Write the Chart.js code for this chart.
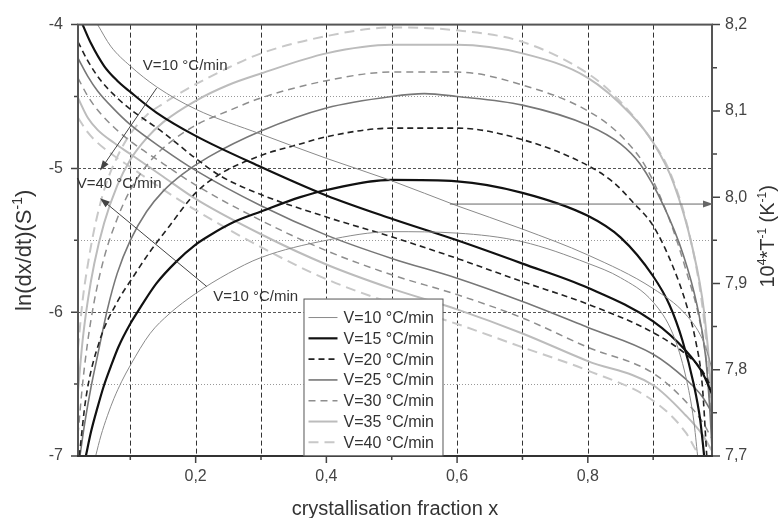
<!DOCTYPE html>
<html lang="en">
<head>
<meta charset="UTF-8">
<title>Crystallisation rate and inverse temperature</title>
<script src="https://cdn.jsdelivr.net/npm/chart.js"></script>
<style>
body {
    margin: 0;
    background: #fff;
}
.wrap {
    position: relative;
    width: 780px;
    height: 518px;
}
</style>
</head>
<body>
<div class="wrap"><canvas id="chart"></canvas></div>
<script>
// heating rates
const rateLabels = ['V=10 °C/min', 'V=15 °C/min', 'V=20 °C/min', 'V=25 °C/min', 'V=30 °C/min', 'V=35 °C/min', 'V=40 °C/min'];

// tick values
const xTicks = [0.2, 0.4, 0.6, 0.8];
const leftTicks = [-7, -6, -5, -4];
const rightTicks = [7.7, 7.8, 7.9, 8.0, 8.1, 8.2];

// ln(dx/dt) vs x  (left axis)
const arc10 = [[0.047,-7],[0.055,-6.86],[0.065,-6.72],[0.075,-6.6],[0.087,-6.48],[0.1,-6.37],[0.13,-6.15],[0.16,-6.01],[0.2,-5.87],[0.25,-5.73],[0.3,-5.62],[0.4,-5.5],[0.5,-5.44],[0.6,-5.45],[0.7,-5.51],[0.8,-5.66],[0.85,-5.76],[0.9,-5.93],[0.93,-6.15],[0.95,-6.45],[0.962,-6.75],[0.968,-7]];
const arc15 = [[0.032,-7],[0.04,-6.83],[0.05,-6.66],[0.059,-6.52],[0.07,-6.38],[0.082,-6.24],[0.1,-6.08],[0.115,-5.97],[0.14,-5.8],[0.17,-5.65],[0.2,-5.53],[0.22,-5.47],[0.26,-5.37],[0.3,-5.3],[0.36,-5.2],[0.4,-5.15],[0.5,-5.08],[0.6,-5.09],[0.7,-5.17],[0.8,-5.33],[0.85,-5.48],[0.9,-5.75],[0.925,-5.95],[0.945,-6.2],[0.962,-6.5],[0.972,-6.75],[0.978,-7]];
const arc20 = [[0.022,-7],[0.032,-6.6],[0.053,-6.2],[0.08,-5.93],[0.105,-5.75],[0.13,-5.58],[0.16,-5.4],[0.2,-5.17],[0.237,-5.04],[0.3,-4.91],[0.36,-4.83],[0.4,-4.78],[0.5,-4.72],[0.6,-4.72],[0.7,-4.8],[0.8,-4.98],[0.84,-5.1],[0.87,-5.24],[0.9,-5.4],[0.93,-5.68],[0.951,-5.95],[0.965,-6.2],[0.975,-6.5],[0.982,-7]];
const arc25 = [[0.023,-7],[0.03,-6.78],[0.04,-6.52],[0.05,-6.3],[0.065,-5.98],[0.08,-5.73],[0.1,-5.5],[0.125,-5.3],[0.15,-5.16],[0.18,-5.04],[0.22,-4.92],[0.3,-4.74],[0.4,-4.58],[0.5,-4.5],[0.55,-4.48],[0.6,-4.5],[0.7,-4.56],[0.8,-4.7],[0.85,-4.83],[0.88,-4.97],[0.916,-5.26],[0.946,-5.6],[0.967,-5.95],[0.98,-6.3],[0.987,-6.7],[0.99,-6.95]];
const arc30 = [[0.02,-6.85],[0.027,-6.5],[0.035,-6.2],[0.045,-5.92],[0.06,-5.62],[0.08,-5.35],[0.1,-5.15],[0.125,-4.98],[0.15,-4.86],[0.2,-4.7],[0.25,-4.6],[0.3,-4.51],[0.4,-4.39],[0.5,-4.33],[0.6,-4.33],[0.7,-4.42],[0.8,-4.6],[0.85,-4.77],[0.89,-5.0],[0.926,-5.37],[0.951,-5.72],[0.972,-6.08],[0.984,-6.45],[0.99,-6.85]];
const arc35 = [[0.02,-6.55],[0.027,-6.2],[0.035,-5.92],[0.045,-5.66],[0.06,-5.38],[0.08,-5.12],[0.1,-4.94],[0.125,-4.79],[0.15,-4.68],[0.2,-4.53],[0.25,-4.42],[0.3,-4.34],[0.4,-4.2],[0.5,-4.14],[0.6,-4.14],[0.7,-4.2],[0.8,-4.37],[0.865,-4.62],[0.9,-4.82],[0.931,-5.1],[0.96,-5.55],[0.978,-6.0],[0.988,-6.5],[0.99,-6.7]];
const arc40 = [[0.02,-6.25],[0.027,-5.92],[0.035,-5.67],[0.045,-5.42],[0.06,-5.15],[0.08,-4.92],[0.1,-4.76],[0.125,-4.63],[0.15,-4.55],[0.186,-4.45],[0.25,-4.3],[0.3,-4.2],[0.4,-4.08],[0.5,-4.02],[0.6,-4.04],[0.7,-4.12],[0.8,-4.34],[0.84,-4.49],[0.9,-4.82],[0.926,-5.03],[0.955,-5.45],[0.975,-5.95],[0.985,-6.4],[0.99,-6.75]];

// 10^4/T vs x  (right axis)
const inv10 = [[0.05,8.2],[0.07,8.175],[0.1,8.152],[0.14,8.128],[0.2,8.102],[0.3,8.073],[0.4,8.045],[0.5,8.019],[0.6,7.99],[0.7,7.963],[0.8,7.933],[0.9,7.894],[0.95,7.864],[0.975,7.836],[0.985,7.815],[0.99,7.8]];
const inv15 = [[0.027,8.2],[0.04,8.178],[0.06,8.152],[0.08,8.135],[0.1,8.122],[0.14,8.098],[0.2,8.071],[0.3,8.035],[0.4,8.002],[0.5,7.975],[0.6,7.95],[0.7,7.923],[0.8,7.895],[0.9,7.856],[0.95,7.822],[0.975,7.797],[0.99,7.772]];
const inv20 = [[0.02,8.18],[0.035,8.158],[0.054,8.136],[0.08,8.115],[0.1,8.102],[0.15,8.075],[0.2,8.045],[0.237,8.025],[0.3,8.003],[0.4,7.977],[0.5,7.954],[0.6,7.929],[0.7,7.902],[0.8,7.876],[0.9,7.843],[0.95,7.818],[0.975,7.799],[0.99,7.778]];
const inv25 = [[0.02,8.161],[0.035,8.14],[0.05,8.123],[0.075,8.102],[0.1,8.084],[0.15,8.056],[0.2,8.031],[0.3,7.99],[0.4,7.956],[0.5,7.929],[0.6,7.906],[0.7,7.879],[0.8,7.849],[0.9,7.818],[0.95,7.789],[0.975,7.769],[0.99,7.75]];
const inv30 = [[0.02,8.138],[0.035,8.117],[0.05,8.101],[0.075,8.081],[0.1,8.065],[0.15,8.039],[0.2,8.014],[0.3,7.973],[0.4,7.938],[0.5,7.91],[0.6,7.887],[0.7,7.86],[0.8,7.826],[0.9,7.796],[0.95,7.763],[0.975,7.74],[0.99,7.72]];
const inv35 = [[0.02,8.115],[0.035,8.092],[0.05,8.078],[0.075,8.063],[0.1,8.05],[0.15,8.024],[0.2,7.998],[0.3,7.957],[0.4,7.922],[0.5,7.894],[0.6,7.87],[0.7,7.842],[0.8,7.81],[0.9,7.782],[0.95,7.747],[0.975,7.725],[0.99,7.706]];
const inv40 = [[0.02,8.092],[0.035,8.075],[0.05,8.063],[0.075,8.048],[0.1,8.035],[0.15,8.009],[0.2,7.985],[0.3,7.942],[0.4,7.905],[0.5,7.877],[0.6,7.853],[0.7,7.826],[0.8,7.799],[0.9,7.764],[0.95,7.727],[0.97,7.7]];

const arcs = [arc10, arc15, arc20, arc25, arc30, arc35, arc40];
const invs = [inv10, inv15, inv20, inv25, inv30, inv35, inv40];

// line look per heating rate
const styles = [
    { color: '#8a8a8a', width: 1,   dash: [] },
    { color: '#111111', width: 2.2, dash: [] },
    { color: '#222222', width: 1.6, dash: [6, 4] },
    { color: '#777777', width: 1.6, dash: [] },
    { color: '#8e8e8e', width: 1.5, dash: [7, 5] },
    { color: '#bcbcbc', width: 2,   dash: [] },
    { color: '#c8c8c8', width: 2,   dash: [10, 6] }
];

const FONT = "'Liberation Sans', Arial, sans-serif";

function fmt(v, digits) {
    return v.toFixed(digits).replace('.', ',');
}

const datasets = [];
styles.forEach((s, i) => {
    const common = {
        borderColor: s.color,
        borderWidth: s.width,
        borderDash: s.dash,
        pointRadius: 0,
        fill: false,
        cubicInterpolationMode: 'monotone',
        clip: 2
    };
    datasets.push(Object.assign({ label: rateLabels[i], yAxisID: 'y', data: arcs[i].map(p => ({ x: p[0], y: p[1] })) }, common));
    datasets.push(Object.assign({ label: rateLabels[i] + ' 1/T', yAxisID: 'y2', data: invs[i].map(p => ({ x: p[0], y: p[1] })) }, common));
});

// draw a string made of normal and superscript parts, centred on (x, y)
function richText(ctx, parts, x, y, size, angle) {
    ctx.save();
    ctx.translate(x, y);
    ctx.rotate(angle);
    const supSize = Math.round(size * 0.62);
    let total = 0;
    parts.forEach(p => {
        ctx.font = (p[1] ? supSize : size) + 'px ' + FONT;
        total += ctx.measureText(p[0]).width;
    });
    let cx = -total / 2;
    ctx.textBaseline = 'alphabetic';
    ctx.textAlign = 'left';
    ctx.fillStyle = '#333';
    parts.forEach(p => {
        ctx.font = (p[1] ? supSize : size) + 'px ' + FONT;
        ctx.fillText(p[0], cx, p[1] ? -size * 0.42 : 0);
        cx += ctx.measureText(p[0]).width;
    });
    ctx.restore();
}

function arrow(ctx, x1, y1, x2, y2, color) {
    const a = Math.atan2(y2 - y1, x2 - x1);
    ctx.save();
    ctx.strokeStyle = color;
    ctx.fillStyle = color;
    ctx.lineWidth = 1;
    ctx.beginPath();
    ctx.moveTo(x1, y1);
    ctx.lineTo(x2 - 6 * Math.cos(a), y2 - 6 * Math.sin(a));
    ctx.stroke();
    ctx.beginPath();
    ctx.moveTo(x2, y2);
    ctx.lineTo(x2 - 10 * Math.cos(a) + 3.5 * Math.sin(a), y2 - 10 * Math.sin(a) - 3.5 * Math.cos(a));
    ctx.lineTo(x2 - 10 * Math.cos(a) - 3.5 * Math.sin(a), y2 - 10 * Math.sin(a) + 3.5 * Math.cos(a));
    ctx.closePath();
    ctx.fill();
    ctx.restore();
}

// dashed / dotted grid behind the curves
const gridLines = {
    id: 'gridLines',
    beforeDatasetsDraw(chart) {
        const { ctx, chartArea: a, scales } = chart;
        ctx.save();
        ctx.lineWidth = 1;
        // vertical
        ctx.strokeStyle = '#333';
        ctx.setLineDash([5, 3]);
        for (let i = 1; i <= 9; i++) {
            const px = Math.round(scales.x.getPixelForValue(i / 10)) + 0.5;
            ctx.beginPath();
            ctx.moveTo(px, a.top);
            ctx.lineTo(px, a.bottom);
            ctx.stroke();
        }
        // horizontal
        [-6.5, -6, -5.5, -5, -4.5].forEach(v => {
            const py = Math.round(scales.y.getPixelForValue(v)) + 0.5;
            const major = Number.isInteger(v);
            ctx.strokeStyle = major ? '#555' : '#999';
            ctx.setLineDash(major ? [3, 2] : [1, 2]);
            ctx.beginPath();
            ctx.moveTo(a.left, py);
            ctx.lineTo(a.right, py);
            ctx.stroke();
        });
        ctx.restore();
    }
};

// frame, ticks, notes, legend and titles
const decorations = {
    id: 'decorations',
    afterDatasetsDraw(chart) {
        const { ctx, chartArea: a, scales } = chart;
        const X = v => scales.x.getPixelForValue(v);
        const YL = v => scales.y.getPixelForValue(v);
        const YR = v => scales.y2.getPixelForValue(v);

        ctx.save();
        ctx.setLineDash([]);
        ctx.strokeStyle = '#444';
        ctx.lineWidth = 1.5;
        // tick marks
        ctx.beginPath();
        for (let i = 1; i <= 9; i++) {
            const px = X(i / 10);
            ctx.moveTo(px, a.bottom);
            ctx.lineTo(px, a.bottom + (i % 2 === 0 ? 7 : 4));
        }
        for (let v = -7; v <= -4; v += 0.5) {
            const py = YL(v);
            ctx.moveTo(a.left, py);
            ctx.lineTo(a.left - (Number.isInteger(v) ? 7 : 4), py);
        }
        for (let k = 0; k <= 10; k++) {
            const py = YR(7.7 + k * 0.05);
            ctx.moveTo(a.right, py);
            ctx.lineTo(a.right + (k % 2 === 0 ? 8 : 5), py);
        }
        ctx.stroke();
        // frame
        ctx.lineWidth = 2;
        ctx.strokeStyle = '#555';
        ctx.strokeRect(a.left, a.top, a.right - a.left, a.bottom - a.top);
        ctx.strokeStyle = '#333';
        ctx.beginPath();
        ctx.moveTo(a.left - 1, a.bottom);
        ctx.lineTo(a.right + 1, a.bottom);
        ctx.stroke();
        ctx.restore();

        // notes
        ctx.save();
        ctx.fillStyle = '#333';
        ctx.font = '15px ' + FONT;
        ctx.textBaseline = 'middle';
        ctx.textAlign = 'left';
        ctx.fillText('V=10 °C/min', X(0.119), YL(-4.29));
        ctx.fillText('V=40 °C/min', X(0.018), YL(-5.106));
        ctx.fillText('V=10 °C/min', X(0.227), YL(-5.89));
        ctx.restore();
        arrow(ctx, X(0.1404), YL(-4.441), X(0.0537), YL(-5.014), '#444');
        arrow(ctx, X(0.2169), YL(-5.821), X(0.0537), YL(-5.207), '#444');
        arrow(ctx, X(0.589), YR(7.992), a.right + 1, YR(7.992), '#666');

        // legend box
        const lx = X(0.365), ly = YL(-5.905);
        const lw = 139, lh = 157, row = 20.8;
        ctx.save();
        ctx.fillStyle = '#fff';
        ctx.fillRect(lx, ly, lw, lh);
        ctx.strokeStyle = '#555';
        ctx.lineWidth = 1;
        ctx.strokeRect(lx + 0.5, ly + 0.5, lw, lh);
        ctx.font = '16px ' + FONT;
        ctx.textBaseline = 'middle';
        ctx.fillStyle = '#333';
        styles.forEach((s, i) => {
            const cy = ly + 19 + i * row;
            ctx.strokeStyle = s.color;
            ctx.lineWidth = s.width;
            ctx.setLineDash(s.dash);
            ctx.beginPath();
            ctx.moveTo(lx + 5, cy);
            ctx.lineTo(lx + 34, cy);
            ctx.stroke();
            ctx.fillText(rateLabels[i], lx + 40, cy + 1);
        });
        ctx.restore();
    },
    afterDraw(chart) {
        const { ctx, chartArea: a } = chart;
        const midY = (a.top + a.bottom) / 2;
        richText(ctx, [['ln(dx/dt)(S', false], ['-1', true], [')', false]], 31, midY + 10, 22, -Math.PI / 2);
        richText(ctx, [['10', false], ['4', true], ['*T', false], ['-1', true], [' (K', false], ['-1', true], [')', false]], 774, midY - 4, 20, -Math.PI / 2);
        richText(ctx, [['crystallisation fraction x', false]], (a.left + a.right) / 2, 515, 20, 0);
    }
};

const tickFont = { family: FONT, size: 16 };

new Chart(document.getElementById('chart'), {
    type: 'line',
    data: { datasets: datasets },
    options: {
        responsive: true,
        maintainAspectRatio: false,
        animation: false,
        layout: { padding: { top: 21, left: 0, right: 0, bottom: 0 } },
        plugins: {
            legend: { display: false },
            tooltip: { enabled: false }
        },
        scales: {
            x: {
                type: 'linear',
                min: 0.02,
                max: 0.99,
                grid: { display: false, drawTicks: false },
                border: { display: false },
                afterBuildTicks: s => { s.ticks = xTicks.map(v => ({ value: v })); },
                afterFit: s => { s.height = 62; },
                ticks: { padding: 11, color: '#444', font: tickFont, maxRotation: 0, autoSkip: false, callback: v => fmt(v, 1) }
            },
            y: {
                type: 'linear',
                position: 'left',
                min: -7,
                max: -4,
                grid: { display: false, drawTicks: false },
                border: { display: false },
                afterBuildTicks: s => { s.ticks = leftTicks.map(v => ({ value: v })); },
                afterFit: s => { s.width = 78; },
                ticks: { padding: 15, color: '#444', font: tickFont, callback: v => String(v) }
            },
            y2: {
                type: 'linear',
                position: 'right',
                min: 7.7,
                max: 8.2,
                grid: { display: false, drawTicks: false },
                border: { display: false },
                afterBuildTicks: s => { s.ticks = rightTicks.map(v => ({ value: v })); },
                afterFit: s => { s.width = 68; },
                ticks: { padding: 13, color: '#444', font: tickFont, callback: v => fmt(v, 1) }
            }
        }
    },
    plugins: [gridLines, decorations]
});
</script>
</body>
</html>
